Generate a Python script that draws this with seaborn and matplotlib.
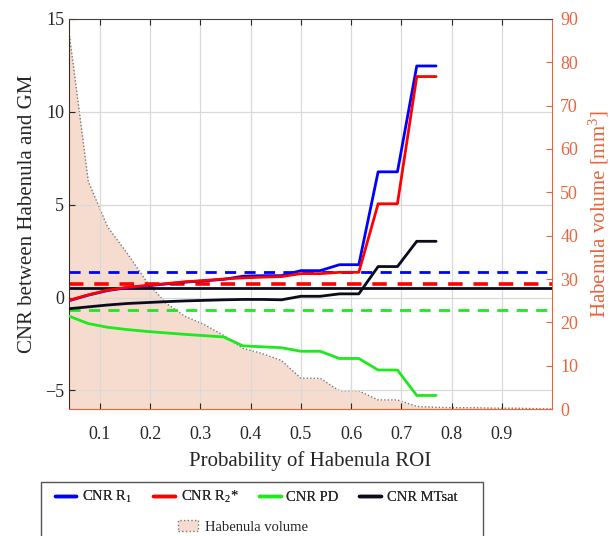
import numpy as np
import pandas as pd
import seaborn as sns
import matplotlib.pyplot as plt
from matplotlib.lines import Line2D
from matplotlib.patches import Patch, Rectangle

# probability thresholds (k/26)
prob = [k / 26 for k in range(1, 27)]
n_cnr = 20

cnr_r1 = [-0.17, 0.13, 0.38, 0.53, 0.63, 0.73, 0.83, 0.9, 0.98, 1.15, 1.18, 1.18,
          1.45, 1.45, 1.77, 1.77, 6.77, 6.77, 12.47, 12.47]
cnr_r2s = [-0.15, 0.15, 0.4, 0.55, 0.65, 0.75, 0.85, 0.92, 1.0, 1.06, 1.1, 1.13,
           1.29, 1.29, 1.36, 1.36, 5.05, 5.05, 11.9, 11.9]
cnr_pd = [-1.0, -1.4, -1.6, -1.72, -1.82, -1.9, -1.98, -2.05, -2.12, -2.6, -2.65, -2.7,
          -2.89, -2.89, -3.28, -3.28, -3.9, -3.9, -5.27, -5.27]
cnr_mtsat = [-0.6, -0.5, -0.4, -0.32, -0.27, -0.22, -0.18, -0.15, -0.12, -0.1, -0.1, -0.12,
             0.07, 0.07, 0.2, 0.2, 1.67, 1.67, 3.03, 3.03]

# reference CNR levels (dashed / solid horizontal lines)
ref_r1 = 1.36
ref_r2s = 0.72
ref_pd = -0.66
ref_mtsat = 0.54

volume = [87, 52.5, 42, 36, 29.5, 24.5, 21.4, 19.5, 17, 14, 12.8, 11.2,
          7.1, 7.1, 4.2, 4.2, 2.1, 2.1, 0.6, 0.4, 0.3, 0.3, 0.2, 0.2, 0.1, 0.0]

names = ['CNR R$_1$', 'CNR R$_2$*', 'CNR PD', 'CNR MTsat']
colors = ['#0000ff', '#ff0000', '#1ee81e', '#0b0b1e']
palette = dict(zip(names, colors))
orange = '#e8643c'

sns.set_style('white')
plt.rcParams['font.family'] = ['Liberation Serif', 'DejaVu Serif']
plt.rcParams['mathtext.fontset'] = 'custom'
plt.rcParams['mathtext.rm'] = 'Liberation Serif'
plt.rcParams['mathtext.it'] = 'Liberation Serif:italic'

df = pd.DataFrame({
    'prob': prob[:n_cnr] * 4,
    'cnr': cnr_r1 + cnr_r2s + cnr_pd + cnr_mtsat,
    'series': sum([[n] * n_cnr for n in names], []),
})

fig = plt.figure(figsize=(6.13, 5.36), dpi=100)
ax = fig.add_axes([0.1126, 0.2369, 0.7879, 0.7277])
ax2 = ax.twinx()
ax.set_zorder(ax2.get_zorder() + 1)
ax.patch.set_visible(False)

# habenula volume on the right axis
ax2.fill_between(prob, 0, volume, color='#f6dccf', lw=0)
ax2.plot(prob, volume, color='#777777', ls=(0, (1, 1.5)), lw=1.0)
ax2.set_ylim(0, 90)
ax2.set_yticks(range(0, 91, 10))
ax2.tick_params(axis='y', direction='in', colors=orange, labelsize=13, length=4, pad=6)
ax2.set_ylabel('Habenula volume [mm$^3$]', color=orange, fontsize=15, labelpad=6)
for s in ['left', 'top', 'bottom']:
    ax2.spines[s].set_visible(False)
ax2.spines['right'].set_color(orange)

# reference lines
for val, c, w in zip([ref_r1, ref_r2s, ref_pd], colors[:3], [2.0, 2.6, 2.0]):
    ax.axhline(val, color=c, lw=w, dashes=(4, 3), zorder=2)
ax.axhline(ref_mtsat, color=colors[3], lw=2.0, zorder=2)

sns.lineplot(data=df, x='prob', y='cnr', hue='series', palette=palette,
             hue_order=[names[0], names[3], names[2], names[1]],
             estimator=None, sort=False, lw=2.0, legend=False, ax=ax, zorder=3)

ax.set_xlim(0.0385, 1.0)
ax.set_ylim(-6, 15)
ax.set_xticks(np.arange(0.1, 0.91, 0.1))
ax.set_xticklabels([f'{v:.1f}' for v in np.arange(0.1, 0.91, 0.1)])
ax.set_yticks([-5, 0, 5, 10, 15])
ax.grid(True, color='#d9d9d9', lw=0.9)
ax.tick_params(axis='both', direction='in', labelsize=13, length=4, colors='#262626',
               top=True, bottom=True, left=True)
ax.tick_params(axis='x', pad=12)
ax.set_xlabel('Probability of Habenula ROI', fontsize=15, color='#262626', labelpad=6)
ax.set_ylabel('CNR between Habenula and GM', fontsize=15, color='#262626', labelpad=6)
ax.spines['right'].set_visible(False)
ax.spines['bottom'].set_color(orange)
ax.spines['left'].set_color('#3a2a20')
ax.spines['top'].set_color('#444444')

# legend box (extends past the bottom of the figure)
fig.patches.append(Rectangle((41 / 613, -0.05), 442 / 613, 0.05 + 54 / 536,
                             transform=fig.transFigure, fill=False,
                             ec='#555555', lw=1.0))
handles = [Line2D([], [], color=c, lw=2.5) for c in colors]
leg1 = fig.legend(handles, names, loc='center', bbox_to_anchor=(256 / 613, 1 - 497 / 536),
                  ncol=4, frameon=False, fontsize=10.5, handlelength=1.5,
                  columnspacing=1.4, handletextpad=0.4)
fig.add_artist(leg1)
fig.legend([Patch(fc='#f6dccf', ec='#777777', ls=':')], ['Habenula volume'],
           loc='center', bbox_to_anchor=(243 / 613, 1 - 527 / 536), frameon=False,
           fontsize=10.5, handlelength=1.4, handletextpad=0.5)

fig.savefig('out.png', dpi=100)
